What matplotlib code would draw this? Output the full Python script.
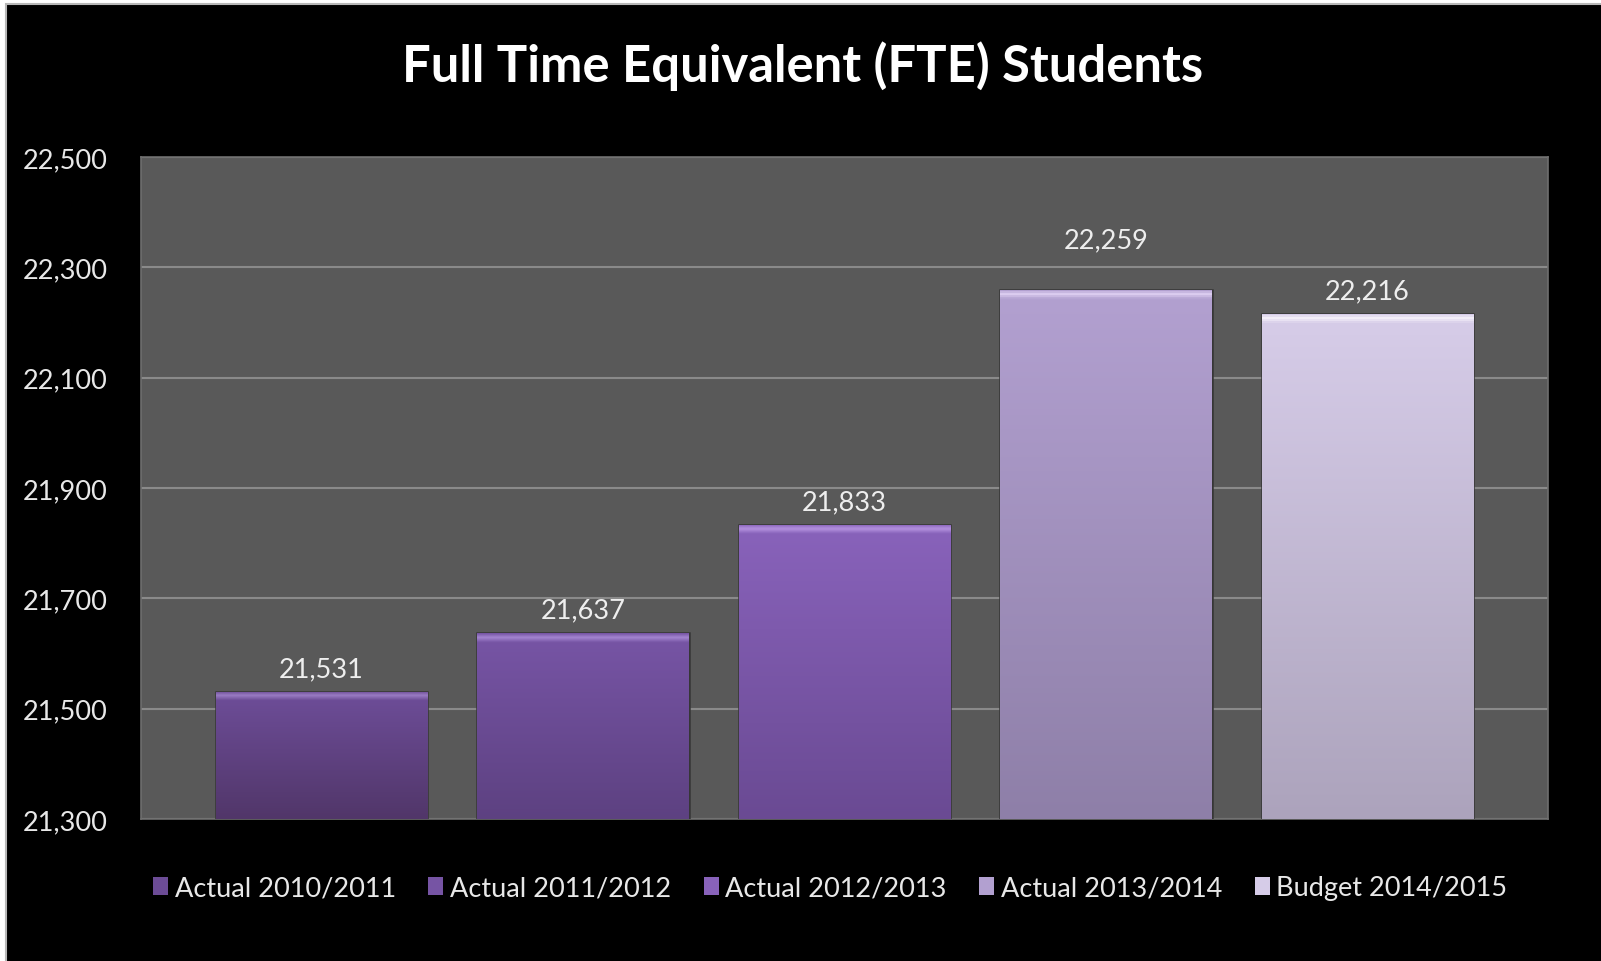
"""Full Time Equivalent (FTE) students, Excel style bar chart on black."""

import matplotlib
matplotlib.use('Agg')
import matplotlib.pyplot as plt
import numpy as np
from matplotlib.colors import LinearSegmentedColormap
from matplotlib.patches import Patch, Rectangle
from matplotlib.ticker import FuncFormatter

series = ['Actual 2010/2011', 'Actual 2011/2012', 'Actual 2012/2013',
          'Actual 2013/2014', 'Budget 2014/2015']
values = [21531, 21637, 21833, 22259, 22216]
top_colors = ['#6c4c96', '#7654a4', '#8862ba', '#b2a0d0', '#d6cce8']
bottom_colors = ['#513669', '#5d4181', '#6a4a93', '#8e7fa8', '#aca3bc']
shine_colors = ['#9a7cc4', '#a486d0', '#b592e0', '#dccdf0', '#f4effa']
y_min, y_max, y_step = 21300, 22500, 200

plt.rcParams['font.family'] = ['Lato', 'DejaVu Sans']

fig = plt.figure(figsize=(16.01, 9.62), dpi=100)
fig.patch.set_facecolor('white')
fig.patches.append(Rectangle((6 / 1601, -0.01), 1.01, 1.01 - 5 / 962,
                             transform=fig.transFigure, facecolor='black',
                             edgecolor='#b8b8b8', linewidth=1.5, zorder=-1))

ax_height_px = 662
ax = fig.add_axes([141 / 1601, 1 - 820 / 962, 1407 / 1601, ax_height_px / 962])
ax.set_facecolor('#595959')
for spine in ax.spines.values():
  spine.set_color('#6e6e6e')
  spine.set_linewidth(1.2)

width = 0.807
# the 2013/2014 label sits higher in the original
label_offset = {3: 36}
x = np.arange(len(values))
gradient = np.linspace(0, 1, 512).reshape(-1, 1)
for pos, val, top, bottom, shine in zip(x, values, top_colors, bottom_colors,
                                        shine_colors):
  bar = ax.bar(pos, val - y_min, bottom=y_min, width=width,
               color=bottom, edgecolor='#363636', linewidth=1.8, zorder=3)[0]
  # bevel: thin light strip along the top edge
  bar_px = (val - y_min) / (y_max - y_min) * ax_height_px
  f = min(9 / bar_px, 0.2)
  cmap = LinearSegmentedColormap.from_list(
      'bar', [(0, bottom), (1 - f, top), (1 - f * 0.45, shine), (1, top)])
  image = ax.imshow(gradient, cmap=cmap, origin='lower', aspect='auto',
                    extent=[pos - width / 2, pos + width / 2, y_min, val],
                    zorder=3.5)
  image.set_clip_path(bar)
  ax.annotate(f'{val:,}', (pos, val), xytext=(0, label_offset.get(pos, 16.5)),
              textcoords='offset points', ha='center', va='center',
              fontsize=19.5, color='#eeeeee', zorder=5)

ax.set_xlim(-0.69, len(values) - 1 + 0.69)
ax.set_ylim(y_min, y_max)
ax.set_yticks(range(y_min, y_max + 1, y_step))
ax.yaxis.set_major_formatter(FuncFormatter(lambda v, _: f'{v:,.0f}'))
ax.grid(axis='y', color='#8a8a8a', linewidth=1.5, zorder=1)
ax.set_axisbelow(True)
ax.set_xticks([])
ax.tick_params(axis='y', length=0, pad=24, labelsize=19.5,
               labelcolor='#e8e8e8')

fig.text(0.501, 1 - 66 / 962, 'Full Time Equivalent (FTE) Students',
         ha='center', va='center', fontsize=36.5, fontweight='bold',
         color='white')

handles = [Patch(facecolor=c, edgecolor='none') for c in top_colors]
fig.legend(handles, series, loc='center', ncol=5,
           bbox_to_anchor=(0.5186, 1 - 889 / 962), frameon=False,
           fontsize=19.5, labelcolor='#e8e8e8', handlelength=0.55,
           handleheight=0.6, handletextpad=0.25, columnspacing=1.2)

fig.savefig('out.png', dpi=100, facecolor=fig.get_facecolor())
